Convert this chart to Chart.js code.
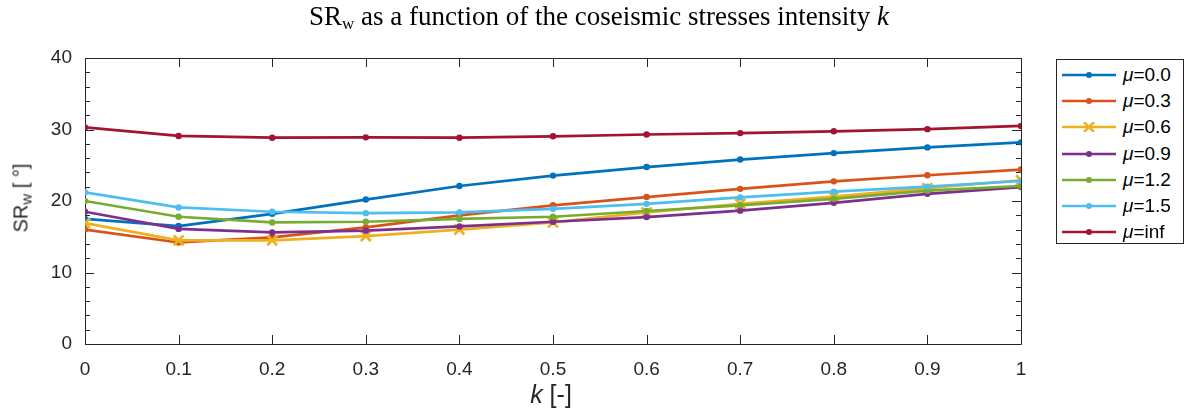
<!DOCTYPE html>
<html>
<head>
<meta charset="utf-8">
<script src="https://cdn.jsdelivr.net/npm/chart.js@4.4.1/dist/chart.umd.min.js"></script>
<style>
  body { margin: 0; background: #fff; }
  #wrap { position: relative; width: 1187px; height: 415px; overflow: hidden; }
  #chart { position: absolute; left: 0; top: 0; }
  .title { position: absolute; left: 0; top: 1px; width: 1198px; text-align: center;
           font: 27px "Liberation Serif", "Times New Roman", serif; color: #000; white-space: nowrap; }
  .title sub { font-size: 17px; vertical-align: -4px; line-height: 0; }
  .ylab { position: absolute; left: 21px; top: 198px; transform: translate(-50%, -50%) rotate(-90deg);
          font: 20px "Liberation Sans", Arial, sans-serif; color: #262626; white-space: nowrap; }
  .ylab sub { font-size: 15px; vertical-align: -4px; line-height: 0; }
  .xlab { position: absolute; left: 551px; top: 380px; transform: translateX(-50%);
          font: 25px "Liberation Sans", Arial, sans-serif; color: #262626; white-space: nowrap; }
  #legend { position: absolute; left: 1056px; top: 59px; width: 128px; height: 185px;
            border: 1px solid #262626; box-sizing: border-box; background: #fff; }
  .row { position: absolute; left: 5px; height: 26px; display: flex; align-items: center;
         font: 19px "Liberation Sans", Arial, sans-serif; color: #000; white-space: nowrap; }
  .row svg { margin-right: 7px; }
</style>
</head>
<body>
<div id="wrap">
  <canvas id="chart" width="1187" height="415"></canvas>
  <div class="title">SR<sub>w</sub> as a function of the coseismic stresses intensity <i>k</i></div>
  <div class="ylab">SR<sub>w</sub> [ °]</div>
  <div class="xlab"><i>k</i> [-]</div>
  <div id="legend"></div>
</div>
<script>
const kValues = [0, 0.1, 0.2, 0.3, 0.4, 0.5, 0.6, 0.7, 0.8, 0.9, 1];

const mu00 = [17.5, 16.5, 18.2, 20.2, 22.1, 23.55, 24.75, 25.8, 26.7, 27.5, 28.2];
const mu03 = [16.0, 14.2, 14.9, 16.3, 18.0, 19.4, 20.55, 21.7, 22.75, 23.6, 24.4];
const mu06 = [16.9, 14.5, 14.5, 15.1, 16.0, 17.0, 18.4, 19.6, 20.6, 21.8, 22.9];
const mu09 = [18.5, 16.1, 15.6, 15.85, 16.45, 17.1, 17.75, 18.65, 19.75, 21.0, 21.95];
const mu12 = [20.0, 17.8, 17.0, 17.1, 17.5, 17.8, 18.6, 19.4, 20.3, 21.45, 22.1];
const mu15 = [21.2, 19.1, 18.5, 18.3, 18.4, 18.9, 19.6, 20.5, 21.3, 22.0, 22.8];
const muInf = [30.3, 29.1, 28.85, 28.9, 28.85, 29.05, 29.3, 29.5, 29.75, 30.05, 30.5];

const seriesLabels = ['0.0', '0.3', '0.6', '0.9', '1.2', '1.5', 'inf'];
const seriesValues = [mu00, mu03, mu06, mu09, mu12, mu15, muInf];
const seriesColors = ['#0072BD', '#D95319', '#EDB120', '#7E2F8E', '#77AC30', '#4DBEEE', '#A2142F'];
const crossSeries = '0.6';

const yTicks = [0, 10, 20, 30, 40];
const yMinorStep = 2;

const axisColor = '#262626';

// build datasets, later series drawn on top like matlab
const datasets = seriesValues.map((vals, i) => {
  const isCross = seriesLabels[i] === crossSeries;
  return {
    label: 'μ=' + seriesLabels[i],
    data: vals.map((v, j) => ({ x: kValues[j], y: v })),
    borderColor: seriesColors[i],
    backgroundColor: seriesColors[i],
    borderWidth: 2.7,
    pointStyle: isCross ? 'crossRot' : 'circle',
    pointRadius: isCross ? 7 : 3.2,
    pointBorderWidth: isCross ? 2.7 : 0,
    pointBorderColor: seriesColors[i],
    pointBackgroundColor: seriesColors[i],
    tension: 0,
    order: seriesValues.length - i
  };
});

// axes box and inward ticks
const boxPlugin = {
  id: 'box',
  beforeDatasetsDraw(chart) {
    const { ctx, chartArea: a, scales } = chart;
    ctx.save();
    ctx.strokeStyle = axisColor;
    ctx.lineWidth = 1;
    ctx.beginPath();
    ctx.rect(Math.round(a.left) + 0.5, Math.round(a.top) + 0.5,
             Math.round(a.right - a.left), Math.round(a.bottom - a.top));
    ctx.stroke();
    ctx.beginPath();
    kValues.forEach(k => {
      const x = Math.round(scales.x.getPixelForValue(k)) + 0.5;
      ctx.moveTo(x, a.bottom); ctx.lineTo(x, a.bottom - 9);
      ctx.moveTo(x, a.top); ctx.lineTo(x, a.top + 9);
    });
    for (let v = 0; v <= 40; v += yMinorStep) {
      const y = Math.round(scales.y.getPixelForValue(v)) + 0.5;
      const len = yTicks.includes(v) ? 9 : 5;
      ctx.moveTo(a.left, y); ctx.lineTo(a.left + len, y);
      ctx.moveTo(a.right, y); ctx.lineTo(a.right - len, y);
    }
    ctx.stroke();
    ctx.restore();
  }
};

const ctx = document.getElementById('chart').getContext('2d');
const chart = new Chart(ctx, {
  type: 'line',
  data: { datasets: datasets },
  options: {
    responsive: false,
    animation: false,
    layout: { padding: { top: 58, right: 166, left: 0, bottom: 0 } },
    plugins: { legend: { display: false }, tooltip: { enabled: false }, title: { display: false } },
    scales: {
      x: {
        type: 'linear',
        min: 0,
        max: 1,
        grid: { display: false, drawTicks: false },
        border: { display: false },
        afterFit: (s) => { s.height = 71; },
        afterBuildTicks: (s) => { s.ticks = kValues.map(v => ({ value: v })); },
        ticks: {
          padding: 14,
          color: axisColor,
          font: { family: 'Liberation Sans', size: 19 },
          maxRotation: 0,
          callback: (v) => String(Number(v.toFixed(1)))
        }
      },
      y: {
        type: 'linear',
        min: 0,
        max: 40,
        grid: { display: false, drawTicks: false },
        border: { display: false },
        afterFit: (s) => { s.width = 85; },
        afterBuildTicks: (s) => { s.ticks = yTicks.map(v => ({ value: v })); },
        ticks: {
          padding: 13,
          color: axisColor,
          font: { family: 'Liberation Sans', size: 19 }
        }
      }
    }
  },
  plugins: [boxPlugin]
});

// legend
const legend = document.getElementById('legend');
seriesLabels.forEach((lab, i) => {
  const c = seriesColors[i];
  const marker = lab === crossSeries
    ? `<path d="M22 0 L32 10 M32 0 L22 10" stroke="${c}" stroke-width="2.5"/>`
    : `<circle cx="27" cy="5" r="3" fill="${c}"/>`;
  const row = document.createElement('div');
  row.className = 'row';
  row.style.top = (2 + i * 26.2) + 'px';
  row.innerHTML = `<svg width="54" height="10"><line x1="0" y1="5" x2="54" y2="5" stroke="${c}" stroke-width="2.5"/>${marker}</svg><span><i>μ</i>=${lab}</span>`;
  legend.appendChild(row);
});
</script>
</body>
</html>
